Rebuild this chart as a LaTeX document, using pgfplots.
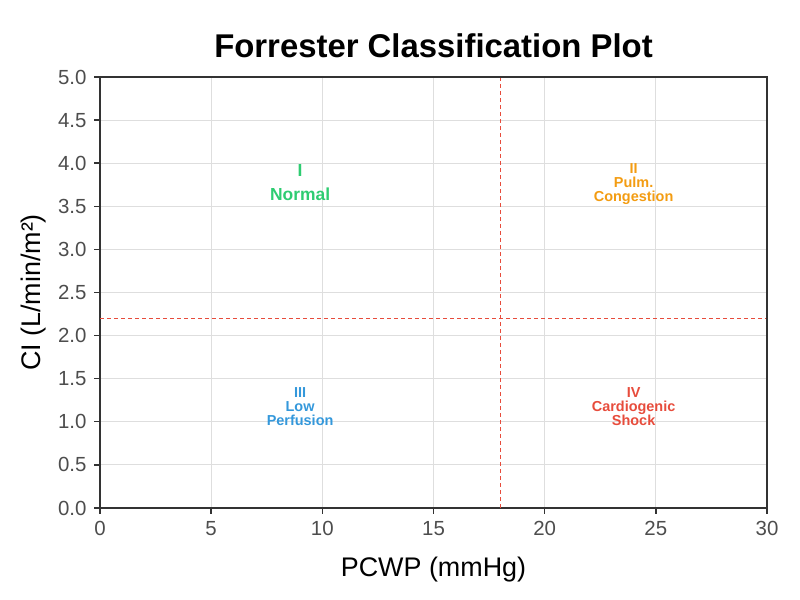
\documentclass[border=0pt]{standalone}
\usepackage{pgfplots}
\pgfplotsset{compat=1.18}
\usepackage{fontspec}
\setmainfont{Liberation Sans}

\definecolor{qgreen}{HTML}{2ECC71}
\definecolor{qorange}{HTML}{F39C12}
\definecolor{qblue}{HTML}{3498DB}
\definecolor{qred}{HTML}{E74C3C}
\definecolor{gridgray}{HTML}{DEDEDE}
\definecolor{ticktext}{HTML}{4D4D4D}
\definecolor{axisdark}{HTML}{333333}

\begin{document}
\begin{tikzpicture}[x=1bp,y=1bp]
\path[use as bounding box] (0,0) rectangle (800,600);
\node[font=\fontsize{33}{36}\selectfont\bfseries] at (433.5,554) {Forrester Classification Plot};
\begin{axis}[
  at={(100bp,92bp)}, anchor=south west,
  scale only axis, width=667bp, height=431bp,
  xmin=0, xmax=30, ymin=0, ymax=5,
  xtick={0,5,10,15,20,25,30},
  ytick={0,0.5,1,1.5,2,2.5,3,3.5,4,4.5,5},
  yticklabel style={/pgf/number format/fixed, /pgf/number format/fixed zerofill, /pgf/number format/precision=1},
  /pgf/number format/assume math mode=true,
  ticklabel style={font=\fontsize{20.5}{23}\selectfont, text=ticktext},
  xticklabel style={yshift=-4bp},
  yticklabel style={xshift=-4bp},
  axis lines=left,
  axis line style={-, line width=1.6bp, color=axisdark},
  tick style={line width=1.4bp, color=axisdark},
  tick align=outside, major tick length=6bp,
  grid=major, grid style={line width=0.8bp, color=gridgray},
  xlabel={PCWP (mmHg)}, ylabel={CI (L/min/m²)},
  label style={font=\fontsize{27}{30}\selectfont},
  xlabel style={yshift=-14bp},
  ylabel style={yshift=5bp},
  clip=false,
]
% quadrant thresholds
\addplot[qred, line width=0.9bp, dash pattern=on 4bp off 3bp] coordinates {(18,0) (18,5)};
\addplot[qred, line width=0.9bp, dash pattern=on 4bp off 3bp] coordinates {(0,2.2) (30,2.2)};
% closing frame on top and right
\draw[line width=1.6bp, color=axisdark] (rel axis cs:0,1) -- (rel axis cs:1,1) -- (rel axis cs:1,0);
% quadrant labels
\node[text=qgreen, font=\fontsize{17.5}{24}\selectfont\bfseries, align=center] at (axis cs:9,3.78) {I\\Normal};
\node[text=qorange, font=\fontsize{14.5}{14}\selectfont\bfseries, align=center] at (axis cs:24,3.76) {II\\Pulm.\\Congestion};
\node[text=qblue, font=\fontsize{14.5}{14}\selectfont\bfseries, align=center] at (axis cs:9,1.18) {III\\Low\\Perfusion};
\node[text=qred, font=\fontsize{14.5}{14}\selectfont\bfseries, align=center] at (axis cs:24,1.18) {IV\\Cardiogenic\\Shock};
\end{axis}
\end{tikzpicture}
\end{document}
